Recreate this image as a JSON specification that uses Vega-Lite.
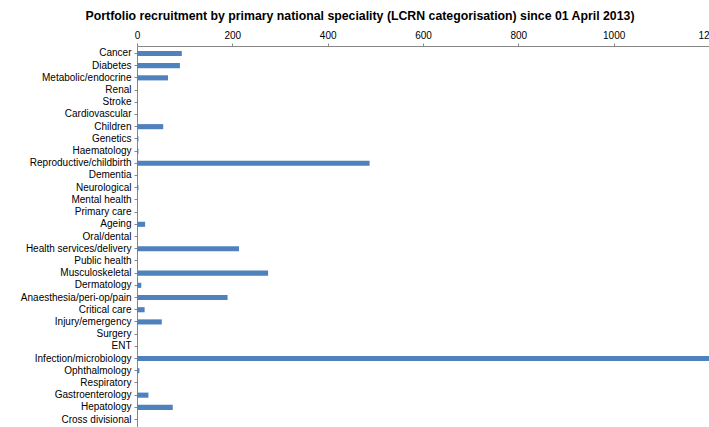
{
  "$schema": "https://vega.github.io/schema/vega-lite/v6.json",
  "width": 572,
  "height": 381,
  "autosize": {"type": "none"},
  "padding": {"left": 137, "top": 46, "right": 0, "bottom": 0},
  "background": "white",
  "title": {
    "text": "Portfolio recruitment by  primary national speciality (LCRN categorisation) since 01 April 2013)",
    "font": "Liberation Sans",
    "fontSize": 12.3,
    "fontWeight": "bold",
    "color": "#000000",
    "anchor": "middle",
    "dx": -63,
    "offset": 8
  },
  "data": {
    "values": [
      {"speciality": "Cancer", "recruitment": 94},
      {"speciality": "Diabetes", "recruitment": 90},
      {"speciality": "Metabolic/endocrine", "recruitment": 65},
      {"speciality": "Renal", "recruitment": 0},
      {"speciality": "Stroke", "recruitment": 1},
      {"speciality": "Cardiovascular", "recruitment": 0},
      {"speciality": "Children", "recruitment": 55},
      {"speciality": "Genetics", "recruitment": 3},
      {"speciality": "Haematology", "recruitment": 3},
      {"speciality": "Reproductive/childbirth", "recruitment": 488},
      {"speciality": "Dementia", "recruitment": 0},
      {"speciality": "Neurological", "recruitment": 3},
      {"speciality": "Mental health", "recruitment": 0},
      {"speciality": "Primary care", "recruitment": 0},
      {"speciality": "Ageing", "recruitment": 17},
      {"speciality": "Oral/dental", "recruitment": 0},
      {"speciality": "Health services/delivery ", "recruitment": 214},
      {"speciality": "Public health", "recruitment": 0},
      {"speciality": "Musculoskeletal", "recruitment": 275},
      {"speciality": "Dermatology", "recruitment": 9},
      {"speciality": "Anaesthesia/peri-op/pain", "recruitment": 190},
      {"speciality": "Critical care", "recruitment": 16},
      {"speciality": "Injury/emergency", "recruitment": 52},
      {"speciality": "Surgery", "recruitment": 0},
      {"speciality": "ENT", "recruitment": 0},
      {"speciality": "Infection/microbiology", "recruitment": 1200},
      {"speciality": "Ophthalmology", "recruitment": 5},
      {"speciality": "Respiratory", "recruitment": 1},
      {"speciality": "Gastroenterology", "recruitment": 24},
      {"speciality": "Hepatology", "recruitment": 75},
      {"speciality": "Cross divisional", "recruitment": 0}
    ]
  },
  "mark": {"type": "bar", "color": "#4F81BD"},
  "encoding": {
    "y": {
      "field": "speciality",
      "type": "nominal",
      "sort": null,
      "scale": {"paddingInner": 0.58, "paddingOuter": 0.4},
      "axis": {
        "title": null,
        "labelFont": "Liberation Sans",
        "labelFontSize": 10,
        "labelColor": "#000000",
        "domainColor": "#868686",
        "tickColor": "#868686",
        "tickSize": 3,
        "labelPadding": 3,
        "labelLimit": 200
      }
    },
    "x": {
      "field": "recruitment",
      "type": "quantitative",
      "scale": {"domain": [0, 1200], "nice": false},
      "axis": {
        "orient": "top",
        "title": null,
        "values": [0, 200, 400, 600, 800, 1000, 1200],
        "format": "d",
        "grid": false,
        "labelFont": "Liberation Sans",
        "labelFontSize": 10,
        "labelColor": "#000000",
        "domainColor": "#868686",
        "tickColor": "#868686",
        "tickSize": 3,
        "labelPadding": 3,
        "labelFlush": false
      }
    }
  },
  "config": {"view": {"stroke": null}}
}
